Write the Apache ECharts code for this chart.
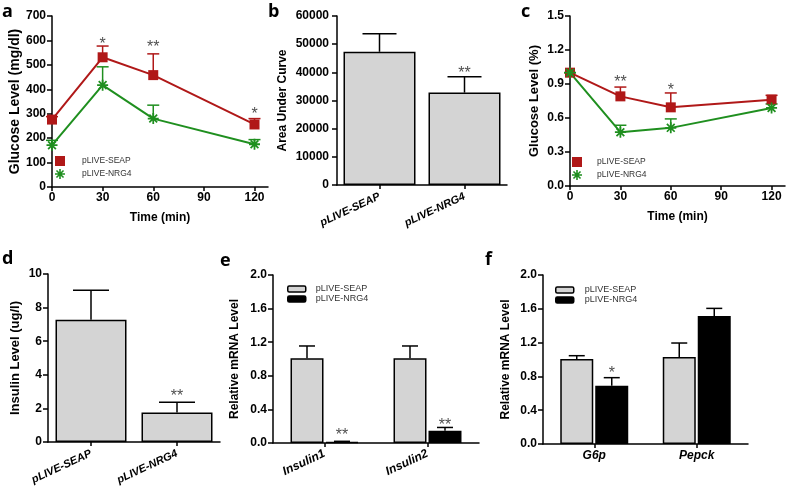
<!DOCTYPE html>
<html>
<head>
<meta charset="utf-8">
<script src="https://cdn.jsdelivr.net/npm/echarts@6/dist/echarts.min.js"></script>
<style>
html,body{margin:0;padding:0;background:#fff;}
#chart{width:787px;height:491px;}
</style>
</head>
<body>
<div id="chart"></div>
<script>
// ---------- DATA ----------
// Panel a: glucose tolerance (mg/dl)
const timeMin = [0, 30, 60, 120];
const timeTicks = [0, 30, 60, 90, 120];
const glucoseSeap = [276, 531, 458, 256];
const glucoseSeapUpper = [288, 577, 545, 280];
const glucoseNrg4 = [171, 417, 280, 175];
const glucoseNrg4Upper = [191, 492, 335, 194];
const glucoseSigX = [30, 60, 120];
const glucoseSigY = [600, 588, 313];
const glucoseSigText = ['*', '**', '*'];

// Panel b: area under curve
const groups = ['pLIVE-SEAP', 'pLIVE-NRG4'];
const aucMean = [47300, 32800];
const aucUpper = [53700, 38400];
const aucSigY = [40900];
const aucSigText = ['**'];

// Panel c: glucose level (%)
const pctSeap = [1.0, 0.791, 0.694, 0.762];
const pctSeapUpper = [1.0, 0.873, 0.821, 0.80];
const pctNrg4 = [1.0, 0.475, 0.513, 0.689];
const pctNrg4Upper = [1.0, 0.536, 0.592, 0.724];
const pctSigX = [30, 60];
const pctSigY = [0.952, 0.873];
const pctSigText = ['**', '*'];

// Panel d: insulin level (ug/l)
const insulinMean = [7.28, 1.76];
const insulinUpper = [9.03, 2.36];
const insulinSigY = [2.95];
const insulinSigText = ['**'];

// Panel e: insulin genes relative mRNA
const insulinGenes = ['Insulin1', 'Insulin2'];
const insGeneSeap = [1.01, 1.01];
const insGeneSeapUpper = [1.155, 1.155];
const insGeneNrg4 = [0.012, 0.145];
const insGeneNrg4Upper = [0.02, 0.185];
const insGeneSigY = [0.13, 0.25];
const insGeneSigText = ['**', '**'];

// Panel f: gluconeogenic genes relative mRNA
const gluGenes = ['G6p', 'Pepck'];
const gluSeap = [1.005, 1.03];
const gluSeapUpper = [1.045, 1.195];
const gluNrg4 = [0.69, 1.515];
const gluNrg4Upper = [0.785, 1.605];
const gluSigCat = ['G6p'];
const gluSigY = [0.875];
const gluSigText = ['*'];

// ---------- STYLE ----------
const FONT = '"Liberation Sans", Arial, Helvetica, sans-serif';
const RED = '#b01818';
const GREEN = '#1f8f1f';
const GRAY = '#d4d4d4';
const BLACK = '#000';

function asteriskPath() {
  let d = '';
  const c = 10, L = 10, w = 1.6;
  [0, 45, 90, 135].forEach(a => {
    const r = a * Math.PI / 180, dx = Math.cos(r), dy = Math.sin(r), nx = -dy, ny = dx;
    const pts = [
      [c + L * dx + w * nx, c + L * dy + w * ny],
      [c - L * dx + w * nx, c - L * dy + w * ny],
      [c - L * dx - w * nx, c - L * dy - w * ny],
      [c + L * dx - w * nx, c + L * dy - w * ny]
    ];
    d += 'M' + pts.map(p => p[0].toFixed(2) + ' ' + p[1].toFixed(2)).join(' L') + ' Z ';
  });
  return 'path://' + d;
}
const AST = asteriskPath();
const SQUARE = 'path://M0 0 L10 0 L10 10 L0 10 Z';

function zip3(a, b, c) { return a.map((v, i) => [v, b[i], c[i]]); }

function errRender(offsetPx, capHalf, color) {
  return function (params, api) {
    const x = api.value(0), y = api.value(1), hi = api.value(2);
    const p0 = api.coord([x, y]);
    const p1 = api.coord([x, hi]);
    const cx = p0[0] + offsetPx;
    return {
      type: 'group',
      children: [
        { type: 'line', shape: { x1: cx, y1: p0[1], x2: cx, y2: p1[1] }, style: { stroke: color, lineWidth: 1.5 } },
        { type: 'line', shape: { x1: cx - capHalf, y1: p1[1], x2: cx + capHalf, y2: p1[1] }, style: { stroke: color, lineWidth: 1.5 } }
      ]
    };
  };
}

function errSeries(gi, data, offsetPx, capHalf, color) {
  return {
    type: 'custom', xAxisIndex: gi, yAxisIndex: gi, z: 3,
    renderItem: errRender(offsetPx, capHalf, color),
    encode: { x: 0, y: [1, 2] },
    data: data, silent: true, tooltip: { show: false }
  };
}

function sigSeries(gi, data, offsetX) {
  return {
    type: 'scatter', xAxisIndex: gi, yAxisIndex: gi, symbolSize: 0, z: 5, silent: true,
    data: data,
    label: {
      show: true, position: 'inside', offset: [offsetX || 0, 4],
      formatter: p => p.value[2],
      fontFamily: FONT, fontSize: 16, color: '#222', fontWeight: 'normal'
    }
  };
}

function valueYAxis(gi, max, interval, decimals, name, nameGap, nameSize, labelMargin) {
  return {
    type: 'value', gridIndex: gi, min: 0, max: max, interval: interval,
    name: name, nameLocation: 'middle', nameGap: nameGap, nameRotate: 90,
    nameTextStyle: { fontFamily: FONT, fontSize: nameSize || 12, fontWeight: 'bold', color: BLACK },
    axisLine: { show: true, lineStyle: { color: BLACK, width: 1.5 } },
    axisTick: { show: true, length: 5, lineStyle: { color: BLACK, width: 1.5 } },
    axisLabel: {
      fontFamily: FONT, fontSize: 12, fontWeight: 'bold', color: BLACK, margin: labelMargin || 6,
      formatter: v => decimals ? Number(v).toFixed(decimals) : String(v)
    },
    splitLine: { show: false }
  };
}

function timeXAxis(gi) {
  return {
    type: 'value', gridIndex: gi, min: 0, max: 128, interval: 30,
    name: 'Time (min)', nameLocation: 'middle', nameGap: 25,
    nameTextStyle: { fontFamily: FONT, fontSize: 12, fontWeight: 'bold', color: BLACK },
    axisLine: { show: true, lineStyle: { color: BLACK, width: 1.5 } },
    axisTick: { show: true, length: 4, lineStyle: { color: BLACK, width: 1.5 }, customValues: timeTicks },
    axisLabel: {
      fontFamily: FONT, fontSize: 12, fontWeight: 'bold', color: BLACK, margin: 5,
      customValues: timeTicks,
      formatter: v => (v % 30 === 0 ? String(v) : '')
    },
    splitLine: { show: false }
  };
}

function catXAxis(gi, cats, rotate, margin, size) {
  return {
    type: 'category', gridIndex: gi, data: cats, boundaryGap: true,
    axisLine: { show: true, lineStyle: { color: BLACK, width: 1.5 } },
    axisTick: { show: true, alignWithLabel: true, length: 4, lineStyle: { color: BLACK, width: 1.5 } },
    axisLabel: {
      fontFamily: FONT, fontSize: size, fontWeight: 'bold', fontStyle: 'italic', color: BLACK,
      rotate: rotate, margin: margin, interval: 0
    },
    splitLine: { show: false }
  };
}

function lineSeries(gi, name, xs, ys, color, symbol, size) {
  return {
    type: 'line', name: name, xAxisIndex: gi, yAxisIndex: gi, z: 4,
    data: xs.map((x, i) => [x, ys[i]]),
    symbol: symbol, symbolSize: size, showSymbol: true,
    lineStyle: { color: color, width: 2 },
    itemStyle: { color: color },
    animation: false
  };
}

function barSeries(gi, name, cats, vals, color, width, gap) {
  const s = {
    type: 'bar', name: name, xAxisIndex: gi, yAxisIndex: gi, z: 2,
    data: cats.map((c, i) => [c, vals[i]]),
    barWidth: width,
    itemStyle: { color: color, borderColor: BLACK, borderWidth: 1.5 },
    animation: false
  };
  if (gap !== undefined) s.barGap = gap;
  return s;
}

const lineLegendText = { fontFamily: FONT, fontSize: 8.5, color: '#333', lineHeight: 10 };
const barLegendText = { fontFamily: FONT, fontSize: 9, color: '#333', lineHeight: 10 };

function lineLegend(left, top, itemWidth) {
  return {
    orient: 'vertical', left: left, top: top, itemWidth: itemWidth, itemHeight: 10, itemGap: 3,
    selectedMode: false, padding: 0, symbolKeepAspect: true,
    textStyle: lineLegendText,
    data: [
      { name: 'pLIVE-SEAP', icon: SQUARE, itemStyle: { color: RED, borderWidth: 0 } },
      { name: 'pLIVE-NRG4', icon: AST, itemStyle: { color: GREEN, borderWidth: 0 } }
    ]
  };
}

function barLegend(left, top, pad) {
  return {
    orient: 'vertical', left: left, top: top, itemWidth: 18, itemHeight: 6, itemGap: 0,
    selectedMode: false, padding: 0,
    textStyle: Object.assign({ padding: [0, 0, 0, pad] }, barLegendText),
    data: [
      { name: 'pLIVE-SEAP', icon: 'roundRect', itemStyle: { color: GRAY, borderColor: BLACK, borderWidth: 1.5 } },
      { name: 'pLIVE-NRG4', icon: 'roundRect', itemStyle: { color: BLACK, borderColor: BLACK, borderWidth: 1.5 } }
    ]
  };
}

function panelLetter(text, x, y) {
  return {
    type: 'text', left: x, top: y,
    style: { text: text, fontFamily: '"Open Sans", "DejaVu Sans", sans-serif', fontSize: 18, fontWeight: 'bold', fill: BLACK }
  };
}

const option = {
  animation: false,
  backgroundColor: '#fff',
  grid: [
    { left: 52, top: 16, width: 216, height: 171, outerBoundsMode: 'none' },
    { left: 337, top: 16, width: 170, height: 169, outerBoundsMode: 'none' },
    { left: 570, top: 16, width: 215, height: 170, outerBoundsMode: 'none' },
    { left: 48, top: 274, width: 172, height: 168, outerBoundsMode: 'none' },
    { left: 273, top: 275, width: 206, height: 168, outerBoundsMode: 'none' },
    { left: 543, top: 275, width: 205, height: 169, outerBoundsMode: 'none' }
  ],
  xAxis: [
    timeXAxis(0),
    catXAxis(1, groups, 25, 11, 11),
    timeXAxis(2),
    catXAxis(3, groups, 25, 11, 11),
    catXAxis(4, insulinGenes, 25, 10, 12),
    catXAxis(5, gluGenes, 0, 6, 12)
  ],
  yAxis: [
    valueYAxis(0, 700, 100, 0, 'Glucose Level (mg/dl)', 30, 14, 6),
    valueYAxis(1, 60000, 10000, 0, 'Area Under Curve', 48, 12, 8),
    valueYAxis(2, 1.5, 0.3, 1, 'Glucose Level (%)', 29, 13, 6),
    valueYAxis(3, 10, 2, 0, 'Insulin Level (ug/l)', 26, 13, 6),
    valueYAxis(4, 2.0, 0.4, 1, 'Relative mRNA Level', 32, 12, 6),
    valueYAxis(5, 2.0, 0.4, 1, 'Relative mRNA Level', 31, 12, 6)
  ],
  legend: [
    lineLegend(55, 156, 34),
    lineLegend(572, 157, 30),
    barLegend(287, 284, 5),
    barLegend(555, 285, 6)
  ],
  graphic: [
    panelLetter('a', 2, 3),
    panelLetter('b', 268, 3),
    panelLetter('c', 521, 3),
    panelLetter('d', 2, 250),
    panelLetter('e', 220, 252),
    panelLetter('f', 485, 251)
  ],
  series: [
    // a
    errSeries(0, zip3(timeMin, glucoseSeap, glucoseSeapUpper), 0, 6, RED),
    errSeries(0, zip3(timeMin, glucoseNrg4, glucoseNrg4Upper), 0, 6, GREEN),
    lineSeries(0, 'pLIVE-SEAP', timeMin, glucoseSeap, RED, 'rect', 10),
    lineSeries(0, 'pLIVE-NRG4', timeMin, glucoseNrg4, GREEN, AST, 11),
    sigSeries(0, zip3(glucoseSigX, glucoseSigY, glucoseSigText)),
    // b
    barSeries(1, 'AUC', groups, aucMean, GRAY, 72),
    errSeries(1, zip3(groups, aucMean, aucUpper), 0, 17, BLACK),
    sigSeries(1, zip3(['pLIVE-NRG4'], aucSigY, aucSigText)),
    // c
    errSeries(2, zip3(timeMin, pctSeap, pctSeapUpper), 0, 6, RED),
    errSeries(2, zip3(timeMin, pctNrg4, pctNrg4Upper), 0, 6, GREEN),
    lineSeries(2, 'pLIVE-SEAP', timeMin, pctSeap, RED, 'rect', 10),
    lineSeries(2, 'pLIVE-NRG4', timeMin, pctNrg4, GREEN, AST, 11),
    sigSeries(2, zip3(pctSigX, pctSigY, pctSigText)),
    // d
    barSeries(3, 'Insulin', groups, insulinMean, GRAY, 71),
    errSeries(3, zip3(groups, insulinMean, insulinUpper), 0, 18, BLACK),
    sigSeries(3, zip3(['pLIVE-NRG4'], insulinSigY, insulinSigText)),
    // e
    barSeries(4, 'pLIVE-SEAP', insulinGenes, insGeneSeap, GRAY, 33, '6%'),
    barSeries(4, 'pLIVE-NRG4', insulinGenes, insGeneNrg4, BLACK, 33, '6%'),
    errSeries(4, zip3(insulinGenes, insGeneSeap, insGeneSeapUpper), -17.5, 8, BLACK),
    errSeries(4, zip3(insulinGenes, insGeneNrg4, insGeneNrg4Upper), 17.5, 8, BLACK),
    sigSeries(4, zip3(insulinGenes, insGeneSigY, insGeneSigText), 17.5),
    // f
    barSeries(5, 'pLIVE-SEAP', gluGenes, gluSeap, GRAY, 33, '6%'),
    barSeries(5, 'pLIVE-NRG4', gluGenes, gluNrg4, BLACK, 33, '6%'),
    errSeries(5, zip3(gluGenes, gluSeap, gluSeapUpper), -17.5, 8, BLACK),
    errSeries(5, zip3(gluGenes, gluNrg4, gluNrg4Upper), 17.5, 8, BLACK),
    sigSeries(5, zip3(gluSigCat, gluSigY, gluSigText), 17.5)
  ]
};

const chart = echarts.init(document.getElementById('chart'), null, { renderer: 'canvas' });
chart.setOption(option);
</script>
</body>
</html>
